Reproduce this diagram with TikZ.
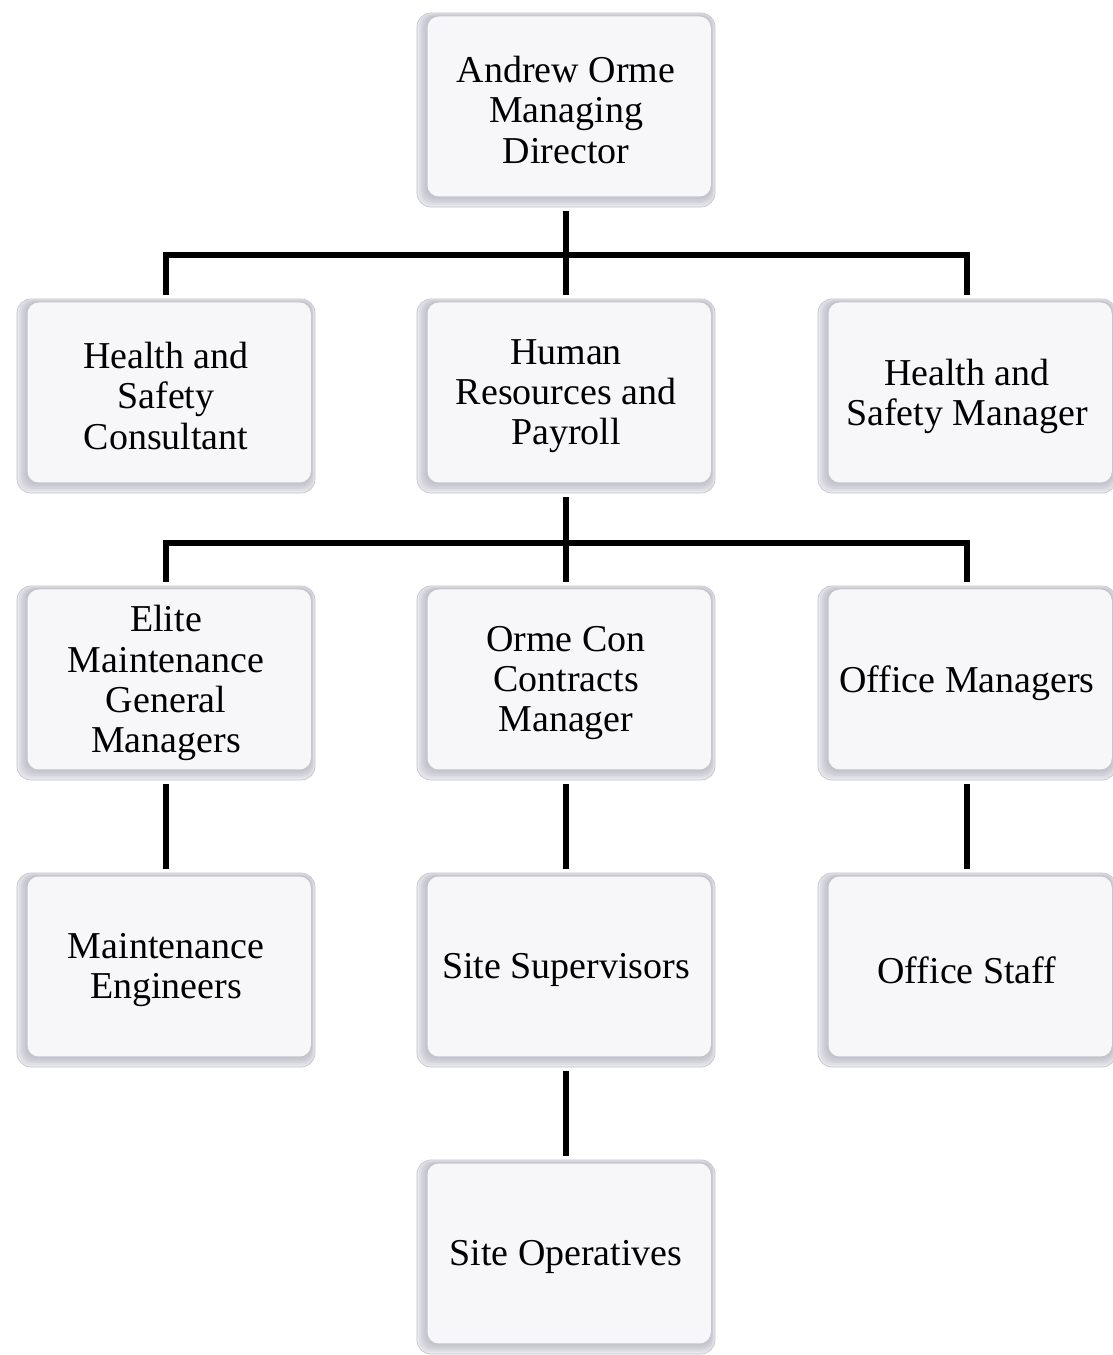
\documentclass[tikz,border=0pt]{standalone}
\usepackage{fontspec}
\setmainfont{Liberation Serif}
\definecolor{rimgray}{RGB}{196,196,206}
\definecolor{facegray}{RGB}{247,247,250}
\begin{document}
\begin{tikzpicture}[x=0.025cm, y=-0.025cm,
  role/.style={rounded corners=10pt, draw=rimgray, line width=0.5pt,
    minimum width=7.45cm, minimum height=4.85cm, align=center,
    inner sep=2pt, outer sep=3pt,
    font=\fontsize{27}{28.5}\selectfont,
    path picture={
      \foreach \i/\c in {0/70,1.5/50,3/30,4.5/14,6/0}{
        \fill[facegray!\c!rimgray, rounded corners=8pt]
          ([shift={(\i pt,\i pt)}]path picture bounding box.south west) rectangle
          ([shift={(-\i*0.4 pt,-\i*0.3 pt)}]path picture bounding box.north east);
      }
      \fill[facegray, rounded corners=8pt]
        ([shift={(7.5pt,7.5pt)}]path picture bounding box.south west) rectangle
        ([shift={(-3pt,-2.5pt)}]path picture bounding box.north east);
    }},
  link/.style={line width=0.15cm}]
  \useasboundingbox (0,0) rectangle (1112,1355);

  % level 0
  \node[role] (md) at (566,110) {Andrew Orme\\Managing\\Director};
  % level 1
  \node[role] (hsc) at (166,396) {Health and\\Safety\\Consultant};
  \node[role] (hr) at (566,396) {Human\\Resources and\\Payroll};
  \node[role] (hsm) at (967,396) {Health and\\Safety Manager};
  % level 2
  \node[role] (emg) at (166,683) {Elite\\Maintenance\\General\\Managers};
  \node[role] (occm) at (566,683) {Orme Con\\Contracts\\Manager};
  \node[role] (om) at (967,683) {Office Managers};
  % level 3
  \node[role] (me) at (166,970) {Maintenance\\Engineers};
  \node[role] (ss) at (566,970) {Site Supervisors};
  \node[role] (os) at (967,970) {Office Staff};
  % level 4
  \node[role] (so) at (566,1257) {Site Operatives};

  \coordinate (bar1) at (566,255);
  \coordinate (bar2) at (566,543);

  \draw[link] (md.south) -- (bar1);
  \draw[link] (hsc.north) |- (bar1) -| (hsm.north);
  \draw[link] (bar1) -- (hr.north);

  \draw[link] (hr.south) -- (bar2);
  \draw[link] (emg.north) |- (bar2) -| (om.north);
  \draw[link] (bar2) -- (occm.north);

  \draw[link] (emg.south) -- (me.north);
  \draw[link] (occm.south) -- (ss.north);
  \draw[link] (om.south) -- (os.north);
  \draw[link] (ss.south) -- (so.north);
\end{tikzpicture}
\end{document}
